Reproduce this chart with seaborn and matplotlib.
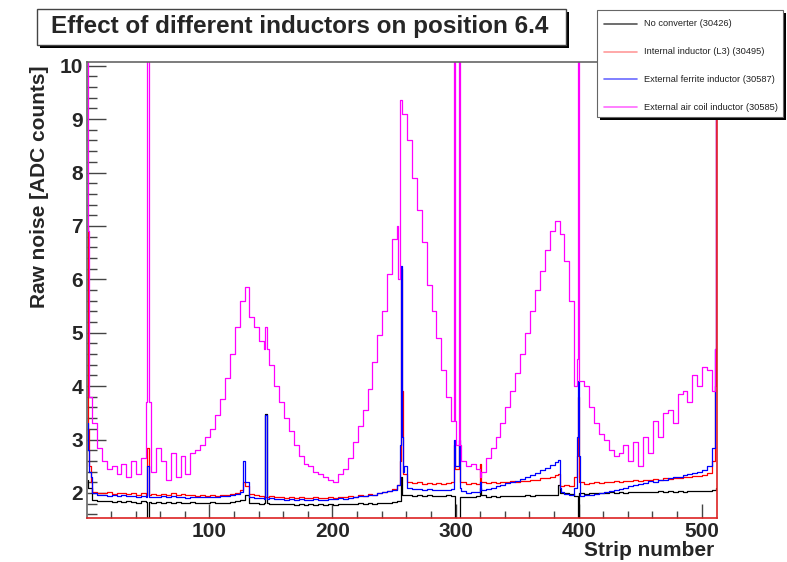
import numpy as np
import pandas as pd
import matplotlib
matplotlib.use("Agg")
import matplotlib.pyplot as plt
import seaborn as sns
from matplotlib.patches import Rectangle
from matplotlib.lines import Line2D
from matplotlib.ticker import MultipleLocator

# raw noise per strip in bins of 4 strips,
# single noisy / dead strips are listed separately
bin_width = 4
n_strips = 512

no_conv_bins = [
    2.10, 1.86, 1.85, 1.84, 1.85, 1.83, 1.84, 1.83,
    1.84, 1.83, 1.82, 1.84, 1.83, 1.82, 1.83, 1.82,
    1.83, 1.82, 1.83, 1.81, 1.82, 1.83, 1.82, 1.81,
    1.82, 1.83, 1.82, 1.81, 1.82, 1.83, 1.84, 1.86,
    1.97, 1.82, 1.81, 1.80, 1.81, 1.80, 1.79, 1.80,
    1.79, 1.80, 1.78, 1.79, 1.78, 1.79, 1.78, 1.79,
    1.78, 1.79, 1.78, 1.80, 1.79, 1.80, 1.79, 1.81,
    1.80, 1.81, 1.80, 1.82, 1.81, 1.82, 1.83, 1.84,
    1.97, 1.96, 1.95, 1.96, 1.95, 1.96, 1.94, 1.95,
    1.95, 1.96, 1.95, 1.92, 1.92, 1.93, 1.92, 1.94,
    1.96, 1.93, 1.94, 1.93, 1.95, 1.94, 1.95, 1.94,
    1.95, 1.96, 1.95, 1.96, 1.97, 1.96, 1.97, 1.97,
    2.00, 1.99, 1.98, 1.95, 1.99, 1.98, 2.00, 1.99,
    2.00, 1.99, 2.01, 2.00, 2.01, 2.00, 2.02, 2.01,
    2.02, 2.01, 2.02, 2.01, 2.03, 2.02, 2.03, 2.02,
    2.03, 2.02, 2.04, 2.03, 2.04, 2.03, 2.04, 2.06,
]
no_conv_spikes = {1: 2.25, 50: 0.0, 146: 3.47, 256: 2.30, 300: 0.0, 301: 0.0,
                  302: 0.0, 303: 0.0, 320: 2.10, 384: 2.15, 400: 0.0, 512: 2.10}

internal_bins = [
    2.20, 2.02, 2.00, 1.99, 2.01, 1.98, 2.00, 1.99,
    1.98, 2.00, 1.97, 1.99, 1.97, 1.98, 1.96, 1.98,
    1.97, 1.99, 1.96, 1.98, 1.96, 1.97, 1.95, 1.97,
    1.95, 1.96, 1.95, 1.97, 1.96, 1.98, 2.00, 2.05,
    2.12, 1.98, 1.96, 1.95, 1.93, 1.94, 1.92, 1.93,
    1.91, 1.93, 1.90, 1.92, 1.91, 1.90, 1.92, 1.91,
    1.90, 1.92, 1.91, 1.93, 1.92, 1.94, 1.93, 1.96,
    1.95, 1.98, 1.97, 2.00, 2.02, 2.04, 2.07, 2.15,
    2.35, 2.20, 2.18, 2.20, 2.17, 2.19, 2.16, 2.18,
    2.17, 2.19, 2.20, 2.20, 2.20, 2.17, 2.19, 2.17,
    2.20, 2.18, 2.20, 2.19, 2.21, 2.20, 2.22, 2.21,
    2.23, 2.22, 2.25, 2.24, 2.27, 2.28, 2.30, 2.33,
    2.12, 2.15, 2.13, 2.30, 2.20, 2.17, 2.19, 2.20,
    2.18, 2.21, 2.20, 2.22, 2.21, 2.23, 2.22, 2.24,
    2.23, 2.25, 2.24, 2.26, 2.25, 2.27, 2.26, 2.28,
    2.27, 2.29, 2.30, 2.32, 2.31, 2.33, 2.38, 2.60,
]
internal_spikes = {1: 7.0, 2: 3.2, 3: 2.5, 50: 2.85, 128: 2.20, 255: 2.6, 256: 6.2,
                   257: 3.9, 299: 2.9, 300: 2.45, 301: 2.45, 302: 2.45, 303: 2.9,
                   320: 2.55, 384: 2.35, 385: 2.12, 399: 2.7, 400: 3.8,
                   511: 4.0, 512: 10.5}

ferrite_bins = [
    2.30, 2.00, 1.97, 1.96, 1.95, 1.97, 1.94, 1.96,
    1.94, 1.95, 1.93, 1.95, 1.92, 1.93, 1.92, 1.94,
    1.93, 1.94, 1.92, 1.93, 1.91, 1.93, 1.92, 1.93,
    1.92, 1.93, 1.92, 1.94, 1.95, 1.96, 1.98, 2.02,
    2.20, 1.93, 1.90, 1.91, 1.89, 1.90, 1.88, 1.89,
    1.87, 1.88, 1.86, 1.88, 1.87, 1.86, 1.88, 1.87,
    1.87, 1.89, 1.88, 1.90, 1.89, 1.91, 1.92, 1.94,
    1.94, 1.96, 1.97, 1.99, 2.01, 2.03, 2.06, 2.15,
    2.50, 2.10, 2.07, 2.08, 2.05, 2.07, 2.05, 2.06,
    2.05, 2.06, 2.07, 2.10, 2.03, 2.00, 2.02, 2.01,
    2.05, 2.07, 2.10, 2.12, 2.15, 2.18, 2.20, 2.23,
    2.26, 2.30, 2.34, 2.38, 2.42, 2.46, 2.52, 2.58,
    2.02, 1.98, 1.97, 2.10, 1.95, 1.96, 1.97, 1.98,
    2.00, 2.02, 2.03, 2.06, 2.08, 2.10, 2.12, 2.14,
    2.17, 2.19, 2.22, 2.20, 2.25, 2.24, 2.28, 2.30,
    2.30, 2.33, 2.35, 2.38, 2.40, 2.43, 2.50, 2.85,
]
ferrite_spikes = {1: 3.3, 2: 2.8, 3: 2.4, 50: 2.5, 128: 2.6, 146: 3.45, 255: 2.9,
                  256: 6.25, 257: 3.05, 258: 2.4, 299: 3.0, 300: 2.5, 301: 2.5,
                  302: 2.5, 303: 3.0, 320: 2.2, 384: 2.62, 385: 2.1, 399: 3.05,
                  400: 4.1, 401: 2.7, 511: 4.7, 512: 10.5}

air_coil_bins = [
    3.80, 3.30, 2.85, 2.60, 2.45, 2.50, 2.35, 2.55,
    2.30, 2.60, 2.35, 2.65, 3.70, 2.40, 2.85, 2.60,
    2.25, 2.75, 2.30, 2.70, 2.35, 2.75, 2.80, 2.90,
    3.05, 3.20, 3.45, 3.75, 4.15, 4.60, 5.10, 5.60,
    5.85, 5.30, 5.10, 4.85, 4.70, 4.40, 4.00, 3.70,
    3.40, 3.15, 2.90, 2.70, 2.55, 2.50, 2.40, 2.35,
    2.30, 2.25, 2.20, 2.35, 2.45, 2.65, 2.95, 3.25,
    3.55, 3.95, 4.45, 4.95, 5.40, 6.10, 6.75, 7.00,
    9.10, 8.60, 7.90, 7.30, 6.70, 5.90, 5.40, 4.90,
    4.30, 3.80, 3.35, 2.90, 2.60, 2.50, 2.55, 2.45,
    2.40, 2.65, 2.85, 3.05, 3.30, 3.60, 3.90, 4.25,
    4.60, 5.00, 5.40, 5.80, 6.15, 6.55, 6.90, 7.10,
    6.85, 6.35, 5.60, 4.00, 4.10, 4.00, 3.60, 3.30,
    3.10, 3.00, 2.80, 2.70, 2.75, 2.90, 2.60, 2.95,
    2.50, 3.05, 2.75, 3.35, 3.05, 3.50, 3.55, 3.30,
    3.85, 3.90, 3.70, 4.20, 4.00, 4.35, 4.30, 3.90,
]
air_coil_spikes = {1: 10.5, 2: 6.9, 50: 10.5, 146: 5.1, 254: 6.0, 255: 9.35,
                   256: 9.35, 299: 10.5, 303: 10.5, 320: 2.3, 399: 4.5, 400: 10.5,
                   511: 4.7, 512: 10.5}

run_names = ["No converter (30426)", "Internal inductor (L3) (30495)",
             "External ferrite inductor (30587)", "External air coil inductor (30585)"]
run_colors = ["black", "#ff0000", "#0000ff", "#ff00ff"]
legend_colors = ["#555555", "#ff9a9a", "#6a6aff", "#ff6aff"]


def build(bins, spikes):
    y = np.repeat(np.array(bins, dtype=float), bin_width)
    for s, v in spikes.items():
        y[s - 1] = v
    return y


strips = np.arange(1, n_strips + 1)
frames = []
for name, b, sp in zip(run_names,
                       [no_conv_bins, internal_bins, ferrite_bins, air_coil_bins],
                       [no_conv_spikes, internal_spikes, ferrite_spikes, air_coil_spikes]):
    frames.append(pd.DataFrame({"strip": strips, "noise": build(b, sp), "run": name}))
df = pd.concat(frames, ignore_index=True)

sns.set_style("ticks")
plt.rcParams["font.family"] = ["Liberation Sans", "DejaVu Sans"]

W, H = 787, 562
fig = plt.figure(figsize=(W / 100, H / 100), dpi=100)
ax = fig.add_axes([87 / W, 1 - 518 / H, (717 - 87) / W, (518 - 62) / H])

sns.lineplot(data=df, x="strip", y="noise", hue="run", hue_order=run_names,
             palette=dict(zip(run_names, run_colors)), estimator=None, sort=False,
             drawstyle="steps-mid", lw=0.9, legend=False, ax=ax)

ax.set_xlim(0.5, 512.5)
ax.set_ylim(1.53, 10.07)
ax.set_xlabel("")
ax.set_ylabel("")
ax.xaxis.set_major_locator(MultipleLocator(100))
ax.xaxis.set_minor_locator(MultipleLocator(20))
ax.yaxis.set_major_locator(MultipleLocator(1))
ax.yaxis.set_minor_locator(MultipleLocator(0.2))
ax.tick_params(axis="y", which="major", direction="in", length=14, width=1,
               color="#444444", labelsize=15, pad=3)
ax.tick_params(axis="y", which="minor", direction="in", length=7, width=1, color="#444444")
ax.tick_params(axis="x", which="major", direction="in", length=10, width=1,
               color="#444444", labelsize=15, pad=3)
ax.tick_params(axis="x", which="minor", direction="in", length=5, width=1, color="#444444")
for lbl in ax.get_xticklabels() + ax.get_yticklabels():
    lbl.set_fontweight("bold")

for side in ["left", "top"]:
    ax.spines[side].set_color("#666666")
    ax.spines[side].set_linewidth(1.2)
for side in ["bottom", "right"]:
    ax.spines[side].set_color("#dd2222")
    ax.spines[side].set_linewidth(1.2)

fig.text(40 / W, 1 - 65 / H, "Raw noise [ADC counts]", rotation=90, ha="center",
         va="top", fontsize=15, fontweight="bold")
fig.text(714 / W, 1 - 551 / H, "Strip number", ha="right", va="center",
         fontsize=15, fontweight="bold")

# title box with shadow
fig.add_artist(Rectangle((40 / W, 1 - 48 / H), 529 / W, 36 / H, transform=fig.transFigure,
                         fc="black", ec="none", zorder=5))
fig.add_artist(Rectangle((37 / W, 1 - 45 / H), 529 / W, 36 / H, transform=fig.transFigure,
                         fc="white", ec="#444444", lw=1, zorder=6))
fig.text(300 / W, 1 - 27 / H, "Effect of different inductors on position 6.4",
         ha="center", va="center", fontsize=17.5, fontweight="bold", zorder=7)

# legend box with shadow
fig.add_artist(Rectangle((600 / W, 1 - 120 / H), 186 / W, 107 / H, transform=fig.transFigure,
                         fc="black", ec="none", zorder=5))
fig.add_artist(Rectangle((597 / W, 1 - 117 / H), 186 / W, 107 / H, transform=fig.transFigure,
                         fc="white", ec="#666666", lw=0.8, zorder=6))
for i, (name, col) in enumerate(zip(run_names, legend_colors)):
    yy = 1 - (24 + 27.7 * i) / H
    fig.add_artist(Line2D([604 / W, 637 / W], [yy, yy], transform=fig.transFigure,
                          color=col, lw=1.2, zorder=7))
    fig.text(644 / W, yy, name, ha="left", va="center", fontsize=6.7,
             color="#222222", zorder=7)

fig.savefig("out.png", dpi=100)
